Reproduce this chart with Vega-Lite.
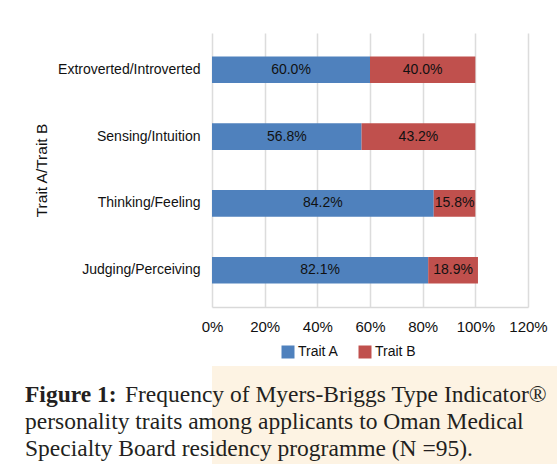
{
  "$schema": "https://vega.github.io/schema/vega-lite/v6.json",
  "background": "white",
  "padding": {"top": 33, "left": 0, "right": 0, "bottom": 0},
  "spacing": 32,
  "title": {
    "text": "Figure 1:",
    "orient": "bottom",
    "anchor": "start",
    "frame": "group",
    "offset": 0,
    "baseline": "alphabetic",
    "dx": -187,
    "dy": -62,
    "font": "Liberation Serif",
    "fontSize": 23.5,
    "fontWeight": "bold",
    "color": "#231f20"
  },
  "vconcat": [
    {
      "width": 316,
      "height": 274,
      "title": {"text": "\u00a0", "orient": "left", "fontSize": 8, "offset": 26, "color": "white"},
      "data": {
        "values": [
          {"trait": "Extroverted/Introverted", "type": "Trait A", "pct": 0.600},
          {"trait": "Extroverted/Introverted", "type": "Trait B", "pct": 0.400},
          {"trait": "Sensing/Intuition", "type": "Trait A", "pct": 0.568},
          {"trait": "Sensing/Intuition", "type": "Trait B", "pct": 0.432},
          {"trait": "Thinking/Feeling", "type": "Trait A", "pct": 0.842},
          {"trait": "Thinking/Feeling", "type": "Trait B", "pct": 0.158},
          {"trait": "Judging/Perceiving", "type": "Trait A", "pct": 0.821},
          {"trait": "Judging/Perceiving", "type": "Trait B", "pct": 0.189}
        ]
      },
      "encoding": {
        "y": {
          "field": "trait",
          "type": "nominal",
          "sort": ["Extroverted/Introverted", "Sensing/Intuition", "Thinking/Feeling", "Judging/Perceiving"],
          "scale": {"paddingInner": 0.6, "paddingOuter": 0.35},
          "axis": {
            "title": "Trait A/Trait B",
            "titleFontSize": 15.5,
            "titleFontWeight": "normal",
            "titleColor": "#111111",
            "titlePadding": 8,
            "labelFontSize": 14,
            "labelColor": "#111111",
            "labelPadding": 12,
            "ticks": false,
            "domain": false,
            "grid": false
          }
        }
      },
      "layer": [
        {
          "mark": {"type": "bar"},
          "encoding": {
            "x": {
              "field": "pct",
              "type": "quantitative",
              "stack": "zero",
              "scale": {"domain": [0, 1.2], "nice": false},
              "axis": {
                "title": null,
                "values": [0, 0.2, 0.4, 0.6, 0.8, 1.0, 1.2],
                "format": ".0%",
                "labelFontSize": 15,
                "labelColor": "#111111",
                "labelPadding": 12,
                "labelFlush": false,
                "labelOverlap": false,
                "ticks": false,
                "domain": true,
                "domainColor": "#d9d9d9",
                "domainWidth": 1.5,
                "grid": true,
                "gridColor": "#dcdcdc",
                "gridWidth": 1.5
              }
            },
            "color": {
              "field": "type",
              "type": "nominal",
              "scale": {"domain": ["Trait A", "Trait B"], "range": ["#4f81bd", "#c0504d"]},
              "legend": {
                "title": null,
                "orient": "none",
                "direction": "horizontal",
                "legendX": 69,
                "legendY": 312,
                "symbolType": "square",
                "symbolSize": 169,
                "symbolStrokeWidth": 0,
                "symbolOpacity": 1,
                "labelFontSize": 14,
                "labelColor": "#111111",
                "labelOffset": 3,
                "columnPadding": 19
              }
            },
            "order": {"field": "type", "sort": "ascending"}
          }
        },
        {
          "mark": {"type": "text", "fontSize": 14, "color": "#111111"},
          "encoding": {
            "x": {"field": "pct", "type": "quantitative", "stack": "zero", "bandPosition": 0.5},
            "text": {"field": "pct", "type": "quantitative", "format": ".1%"},
            "detail": {"field": "type"},
            "order": {"field": "type", "sort": "ascending"}
          }
        }
      ]
    },
    {
      "width": 345,
      "height": 98,
      "view": {"fill": "#fdf3e3", "stroke": null},
      "data": {"values": [{}]},
      "mark": {"type": "rect", "color": "#fdf3e3"},
      "title": {
        "text": [
          "\u200b\u00a0\u00a0\u00a0\u00a0\u00a0\u00a0\u00a0\u00a0\u00a0\u00a0\u00a0\u00a0\u00a0\u00a0\u00a0\u00a0\u00a0Frequency of Myers-Briggs Type Indicator®",
          "personality traits among applicants to Oman Medical",
          "Specialty Board residency programme (N =95)."
        ],
        "orient": "bottom",
        "anchor": "start",
        "frame": "group",
        "offset": 0,
        "baseline": "alphabetic",
        "dx": -187,
        "dy": -62,
        "lineHeight": 27,
        "font": "Liberation Serif",
        "fontSize": 23.5,
        "fontWeight": "normal",
        "color": "#231f20"
      }
    }
  ],
  "config": {
    "view": {"stroke": null},
    "font": "Liberation Sans",
    "axis": {"labelFont": "Liberation Sans", "titleFont": "Liberation Sans"},
    "legend": {"labelFont": "Liberation Sans"},
    "text": {"font": "Liberation Sans"}
  }
}
